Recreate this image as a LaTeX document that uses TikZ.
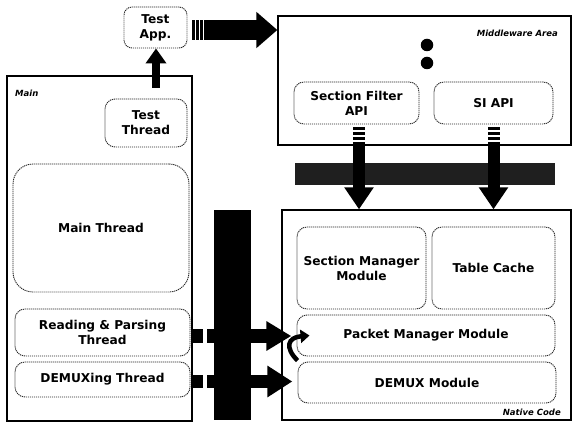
\documentclass[tikz,border=0pt]{standalone}
\usepackage{fontspec}
\setmainfont{DejaVu Sans}
\usetikzlibrary{arrows.meta,calc}
\begin{document}
\begin{tikzpicture}[x=1pt,y=-1pt,
  outerbox/.style={draw=black, line width=1.3pt, inner sep=0pt},
  innerbox/.style={draw=black!85, line width=0.9pt, dash pattern=on 1.2pt off 0.8pt,
     rounded corners=10pt, inner sep=0pt, align=center,
     font=\fontsize{12.2}{15}\selectfont\bfseries},
  smalllbl/.style={font=\fontsize{8.5}{9}\selectfont\bfseries\itshape, inner sep=0pt},
  barbox/.style={fill=black, draw=none, inner sep=0pt},
  dotmark/.style={fill=black, circle, minimum size=12.5pt, inner sep=0pt}
]
\useasboundingbox (0,0) rectangle (573,427);
\fill[white] (0,0) rectangle (573,427);

% outer containers
\node[outerbox, minimum width=185pt, minimum height=345pt] (mainbox) at (99.5,248.5) {};
\node[outerbox, minimum width=293pt, minimum height=129pt] (mw) at (424.5,80.5) {};
\node[outerbox, minimum width=289pt, minimum height=210pt] (native) at (426.5,315) {};

% labels
\node[smalllbl, anchor=west] (mainlbl) at (15,93) {Main};
\node[smalllbl, anchor=east] (mwlbl) at (558,33) {Middleware Area};
\node[smalllbl, anchor=east] (nclbl) at (561,412) {Native Code};

% inner boxes
\node[innerbox, rounded corners=8pt, minimum width=63pt, minimum height=41pt] (testapp) at (155.5,27.5) {Test\\App.};
\node[innerbox, minimum width=82pt, minimum height=48pt] (testthread) at (146,123) {Test\\Thread};
\node[innerbox, rounded corners=20pt, minimum width=176pt, minimum height=128pt] (mainthread) at (101,228) {Main Thread};
\node[innerbox, minimum width=175pt, minimum height=47pt] (readthread) at (102.5,332.5) {Reading \& Parsing\\Thread};
\node[innerbox, minimum width=175pt, minimum height=35pt] (demuxthread) at (102.5,379.5) {DEMUXing Thread};

\node[innerbox, minimum width=125pt, minimum height=42pt] (sfapi) at (356.5,103) {Section Filter\\API};
\node[innerbox, minimum width=119pt, minimum height=42pt] (siapi) at (493.5,103) {SI API};
\node[dotmark] (dot1) at (427,45) {};
\node[dotmark] (dot2) at (427,63) {};

\node[innerbox, minimum width=129pt, minimum height=82pt] (smm) at (361.5,268) {Section Manager\\Module};
\node[innerbox, minimum width=123pt, minimum height=82pt] (tc) at (493.5,268) {Table Cache};
\node[innerbox, minimum width=258pt, minimum height=41pt] (pmm) at (426,335.5) {Packet Manager Module};
\node[innerbox, minimum width=258pt, minimum height=41pt] (demuxmod) at (427,382.5) {DEMUX Module};

% bars
\node[barbox, fill=black!88, minimum width=260pt, minimum height=22pt] (hbar) at (425,174) {};
\node[barbox, minimum width=37pt, minimum height=210pt] (vbar) at (232.5,315) {};

% Test Thread -> Test App.
\draw[line width=8pt, -{Triangle[length=15pt,width=20pt]}]
  ($(testthread.north)+(10,-11)$) -- ($(testapp.south)+(0.5,0)$);

% Test App. -> Middleware Area
\foreach \a/\b in {192/194.5,196/198.5,200/202.5} \fill (\a,20) rectangle (\b,40);
\draw[line width=20pt, -{Triangle[length=21pt,width=35pt]}]
  ($(testapp.east)+(17,2.5)$) -- ($(testapp.east -| mw.west)+(0,2.5)$);

% API arrows down to native code
\foreach \y in {127,132,137} {
  \fill (353,\y) rectangle (365,\y+3.5);
  \fill (487.5,\y) rectangle (499.5,\y+3.5);
}
\draw[line width=12pt, -{Triangle[length=22pt,width=28pt]}]
  ($(sfapi.south)+(2.5,18)$) -- ($(sfapi.south |- native.north)+(2.5,0)$);
\draw[line width=12pt, -{Triangle[length=22pt,width=28pt]}]
  ($(siapi.south)+(0,18)$) -- ($(siapi.south |- native.north)$);

% thread arrows to native code
\fill (191,329) rectangle (203,343);
\draw[line width=14pt, -{Triangle[length=25pt,width=28pt]}]
  ($(readthread.east)+(17,3.5)$) -- ($(readthread.east -| native.west)+(10,3.5)$);
\fill (191,375) rectangle (203,388);
\draw[line width=13pt, -{Triangle[length=25pt,width=30pt]}]
  ($(demuxthread.east)+(17,2)$) -- ($(demuxthread.east -| native.west)+(11,2)$);

% DEMUX Module -> Packet Manager Module (curved)
\draw[line width=4.5pt, -{Triangle[length=9pt,width=13pt]}]
  ($(demuxmod.north west)+(0,-1)$) .. controls +(-13,-13) and +(-22,2) .. ($(pmm.west)+(13,0)$);
\end{tikzpicture}
\end{document}
